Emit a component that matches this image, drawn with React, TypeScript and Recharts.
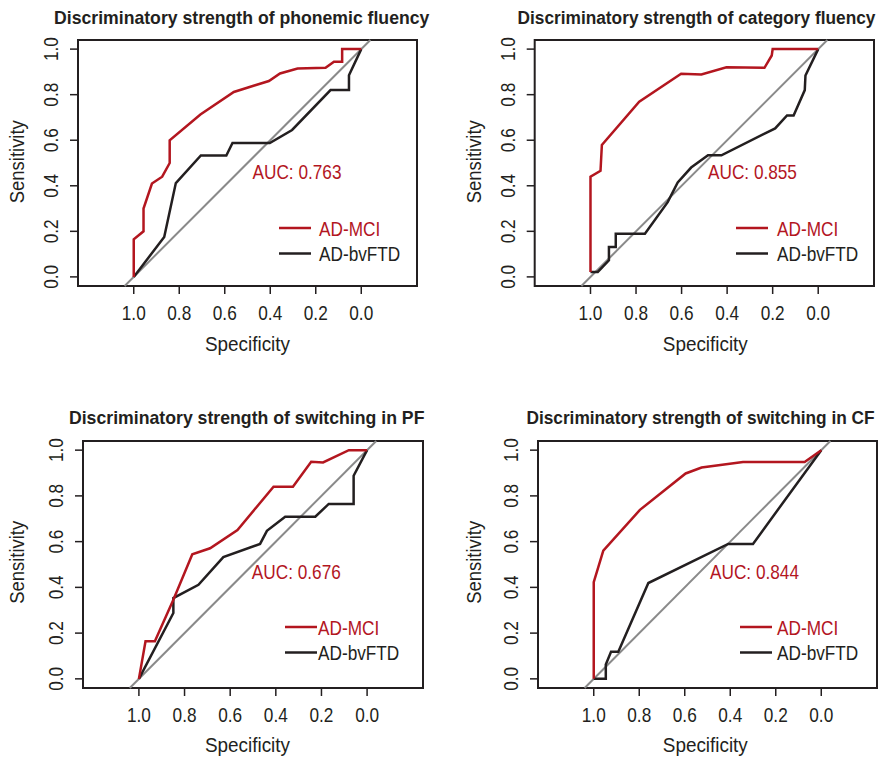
import { LineChart, Line, XAxis, YAxis, ReferenceLine, ReferenceArea, ReferenceDot } from 'recharts'

// ROC curves, points are [specificity, sensitivity]
type Pt = [number, number]

const TICKS = [0, 0.2, 0.4, 0.6, 0.8, 1]
const X_DOMAIN: [number, number] = [-0.245, 1.245]
const Y_DOMAIN: [number, number] = [-0.04, 1.04]
const SERIES_NAMES = ['AD-MCI', 'AD-bvFTD']

const TITLES = [
  'Discriminatory strength of phonemic fluency',
  'Discriminatory strength of category fluency',
  'Discriminatory strength of switching in PF',
  'Discriminatory strength of switching in CF',
]
const AUCS = ['0.763', '0.855', '0.676', '0.844']

const phonemicMci: Pt[] = [
  [1, 0], [1, 0.165], [0.957, 0.2], [0.957, 0.3], [0.92, 0.41], [0.875, 0.44], [0.842, 0.5],
  [0.842, 0.6], [0.707, 0.713], [0.56, 0.812], [0.47, 0.84], [0.406, 0.86], [0.357, 0.893],
  [0.28, 0.915], [0.157, 0.918], [0.12, 0.945], [0.084, 0.945], [0.084, 1], [0, 1],
]
const phonemicFtd: Pt[] = [
  [1, 0], [0.866, 0.175], [0.815, 0.412], [0.705, 0.533], [0.593, 0.533], [0.566, 0.588],
  [0.402, 0.588], [0.304, 0.645], [0.135, 0.82], [0.054, 0.82], [0.054, 0.885], [0, 1],
]

const categoryMci: Pt[] = [
  [1, 0.022], [1, 0.44], [0.956, 0.466], [0.95, 0.579], [0.786, 0.769], [0.602, 0.892],
  [0.513, 0.889], [0.403, 0.92], [0.236, 0.918], [0.204, 0.972], [0.2, 1], [0, 1],
]
const categoryFtd: Pt[] = [
  [1, 0.022], [0.968, 0.022], [0.919, 0.073], [0.919, 0.131], [0.889, 0.131], [0.889, 0.189],
  [0.761, 0.189], [0.661, 0.328], [0.617, 0.415], [0.558, 0.48], [0.484, 0.534], [0.425, 0.534],
  [0.189, 0.652], [0.137, 0.709], [0.108, 0.709], [0.059, 0.82], [0.056, 0.884], [0, 1],
]

const switchPfMci: Pt[] = [
  [1, 0], [0.971, 0.164], [0.93, 0.164], [0.849, 0.346], [0.766, 0.545], [0.688, 0.571],
  [0.568, 0.651], [0.41, 0.84], [0.325, 0.84], [0.245, 0.949], [0.193, 0.946], [0.08, 1], [0, 1],
]
const switchPfFtd: Pt[] = [
  [1, 0], [0.849, 0.288], [0.849, 0.353], [0.739, 0.411], [0.63, 0.532], [0.469, 0.59],
  [0.439, 0.647], [0.359, 0.709], [0.227, 0.709], [0.168, 0.765], [0.059, 0.765], [0.059, 0.888], [0, 1],
]

const switchCfMci: Pt[] = [
  [1, 0], [1, 0.423], [0.958, 0.561], [0.797, 0.739], [0.596, 0.898], [0.526, 0.924],
  [0.344, 0.948], [0.073, 0.948], [0, 1],
]
const switchCfFtd: Pt[] = [
  [1, 0], [0.947, 0], [0.947, 0.0625], [0.924, 0.118], [0.892, 0.118], [0.76, 0.419],
  [0.409, 0.59], [0.3, 0.59], [0, 1],
]

const RED = '#b3161f'
const INK = '#231f20'
const GREY = '#8a8a8a'
const FONT = '"Liberation Sans", Arial, Helvetica, sans-serif'
const NARROW = 0.82 // the original uses a condensed face; squeeze Liberation Sans

const CELL_W = 442
const CELL_H = 379
const AX = 30

const toRows = (pts: Pt[]) => pts.map(([spec, sens]) => ({ spec, sens }))

const LAYOUT = [
  { x: 0, y: 0, box: { l: 78, t: 40, r: 417, b: 286 }, title: { cx: 241.7, y: 24, sx: 0.98 }, xlab: { cx: 247.5, y: 351 }, ylab: { x: 24, cy: 161.7 }, auc: { x: 0.478, y: 0.463 }, leg: { lx: 279, tx: 319, y: 228 } },
  { x: 442, y: 0, box: { l: 92.7, t: 40, r: 432, b: 286 }, title: { cx: 254.5, y: 24, sx: 0.96 }, xlab: { cx: 263.3, y: 351 }, ylab: { x: 39, cy: 161.7 }, auc: { x: 0.484, y: 0.464 }, leg: { lx: 294, tx: 335, y: 228 } },
  { x: 0, y: 379, box: { l: 83, t: 62, r: 423, b: 309 }, title: { cx: 246.7, y: 45, sx: 0.983 }, xlab: { cx: 247.5, y: 372.5 }, ylab: { x: 24, cy: 183.3 }, auc: { x: 0.505, y: 0.47 }, leg: { lx: 285, tx: 318, y: 248 } },
  { x: 442, y: 379, box: { l: 96, t: 62, r: 435, b: 309 }, title: { cx: 258.5, y: 45, sx: 0.96 }, xlab: { cx: 263.3, y: 372.5 }, ylab: { x: 39, cy: 183.3 }, auc: { x: 0.489, y: 0.47 }, leg: { lx: 298, tx: 335, y: 248 } },
]

const PANELS = [
  { mci: phonemicMci, ftd: phonemicFtd },
  { mci: categoryMci, ftd: categoryFtd },
  { mci: switchPfMci, ftd: switchPfFtd },
  { mci: switchCfMci, ftd: switchCfFtd },
]

// svg text in a squeezed Liberation Sans, optionally rotated, optionally forced to a width
function NText({ x, y, children, anchor = 'middle', size = 21, weight = 'normal', fill = INK, rotate = 0, dy, length, sx = NARROW }: any) {
  if (length) {
    return (
      <text
        x={x}
        y={y}
        dy={dy}
        transform={rotate ? `rotate(${rotate} ${x} ${y})` : undefined}
        textAnchor={anchor}
        fontSize={size}
        fontWeight={weight}
        fill={fill}
        fontFamily={FONT}
        textLength={length}
        lengthAdjust="spacingAndGlyphs"
      >
        {children}
      </text>
    )
  }
  return (
    <text
      x={0}
      y={0}
      dy={dy}
      transform={`translate(${x} ${y}) rotate(${rotate}) scale(${sx} 1)`}
      textAnchor={anchor}
      fontSize={size}
      fontWeight={weight}
      fill={fill}
      fontFamily={FONT}
    >
      {children}
    </text>
  )
}

function XTick({ x, y, payload }: any) {
  return <NText x={x} y={y} dy={14}>{Number(payload.value).toFixed(1)}</NText>
}

function YTick({ x, y, payload }: any) {
  return <NText x={x} y={y} rotate={-90}>{Number(payload.value).toFixed(1)}</NText>
}

function RocPanel({ i }: { i: number }) {
  const L = LAYOUT[i]
  const { mci, ftd } = PANELS[i]
  const g = L.box
  return (
    <div style={{ position: 'absolute', left: L.x, top: L.y, width: CELL_W, height: CELL_H }}>
      <LineChart
        width={CELL_W}
        height={CELL_H}
        margin={{ top: g.t, right: CELL_W - g.r, bottom: CELL_H - g.b - AX, left: g.l - AX }}
      >
        <XAxis
          type="number"
          dataKey="spec"
          domain={X_DOMAIN}
          reversed
          ticks={TICKS}
          allowDataOverflow
          axisLine={false}
          tickLine={{ stroke: INK, strokeWidth: 1.5 }}
          tickSize={8}
          tickMargin={12}
          height={AX}
          tick={XTick}
        />
        <YAxis
          type="number"
          domain={Y_DOMAIN}
          ticks={TICKS}
          allowDataOverflow
          axisLine={false}
          tickLine={{ stroke: INK, strokeWidth: 1.5 }}
          tickSize={8}
          tickMargin={12}
          width={AX}
          tick={YTick}
        />
        <ReferenceArea
          x1={X_DOMAIN[0]}
          x2={X_DOMAIN[1]}
          y1={Y_DOMAIN[0]}
          y2={Y_DOMAIN[1]}
          fill="none"
          fillOpacity={0}
          stroke={INK}
          strokeWidth={2}
          ifOverflow="visible"
        />
        <ReferenceLine
          segment={[{ x: 1.04, y: -0.04 }, { x: -0.04, y: 1.04 }]}
          stroke={GREY}
          strokeWidth={2}
          ifOverflow="visible"
        />
        <Line data={toRows(ftd)} dataKey="sens" type="linear" stroke={INK} strokeWidth={2.5} dot={false} activeDot={false} isAnimationActive={false} />
        <Line data={toRows(mci)} dataKey="sens" type="linear" stroke={RED} strokeWidth={2.5} dot={false} activeDot={false} isAnimationActive={false} />
        <ReferenceDot
          x={L.auc.x}
          y={L.auc.y}
          r={0}
          stroke="none"
          fill="none"
          label={(p: any) => (
            <NText x={p.viewBox.x} y={p.viewBox.y} dy="0.36em" anchor="start" fill={RED}>
              {`AUC: ${AUCS[i]}`}
            </NText>
          )}
        />
      </LineChart>

      {/* title, axis names and legend */}
      <svg
        width={CELL_W}
        height={CELL_H}
        style={{ position: 'absolute', left: 0, top: 0, pointerEvents: 'none', overflow: 'visible' }}
      >
        <NText x={L.title.cx} y={L.title.y} size={18} weight="bold" sx={L.title.sx}>
          {TITLES[i]}
        </NText>
        <NText x={L.xlab.cx} y={L.xlab.y} length={85}>Specificity</NText>
        <NText x={L.ylab.x} y={L.ylab.cy} rotate={-90} length={83}>Sensitivity</NText>
        <line x1={L.leg.lx} x2={L.leg.lx + 32} y1={L.leg.y} y2={L.leg.y} stroke={RED} strokeWidth={2.5} />
        <NText x={L.leg.tx} y={L.leg.y} dy="0.36em" anchor="start" fill={RED}>{SERIES_NAMES[0]}</NText>
        <line x1={L.leg.lx} x2={L.leg.lx + 32} y1={L.leg.y + 25.5} y2={L.leg.y + 25.5} stroke={INK} strokeWidth={2.5} />
        <NText x={L.leg.tx} y={L.leg.y + 25.5} dy="0.36em" anchor="start">{SERIES_NAMES[1]}</NText>
      </svg>
    </div>
  )
}

export default function App() {
  return (
    <div style={{ position: 'absolute', left: 0, top: 0, width: 884, height: 758, background: '#fff' }}>
      {LAYOUT.map((_, i) => (
        <RocPanel key={i} i={i} />
      ))}
    </div>
  )
}
